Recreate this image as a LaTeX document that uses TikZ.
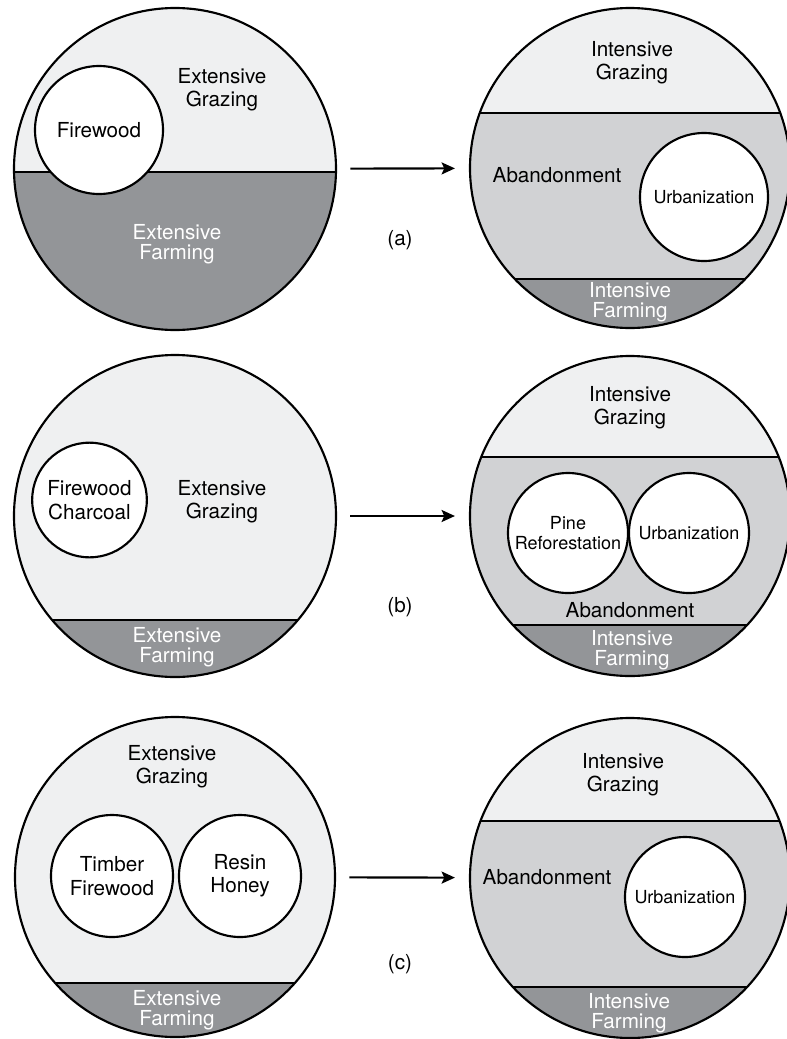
\documentclass[tikz,border=0pt]{standalone}
\usepackage{fontspec}
\setmainfont{TeX Gyre Heros}
\usetikzlibrary{arrows.meta}

\definecolor{lightband}{RGB}{239,240,241}
\definecolor{midband}{RGB}{209,210,212}
\definecolor{darkband}{RGB}{147,149,152}

\tikzset{every picture/.style={line width=1.6pt}}
\tikzset{
  bigring/.style={circle,draw,inner sep=0pt,minimum size=#1},
  usecircle/.style={circle,draw,fill=white,inner sep=0pt,minimum size=#1},
  lbl/.style={align=center,inner sep=0.75pt,font=\fontsize{15.5}{17.5}\selectfont},
  smalllbl/.style={align=center,inner sep=0.75pt,font=\fontsize{13.5}{15.5}\selectfont},
  farmlbl/.style={align=center,inner sep=0.75pt,text=white,font=\fontsize{15.5}{15}\selectfont},
  shiftarrow/.style={-{Stealth[length=10pt,width=9pt,inset=2pt]},shorten <=10pt,shorten >=10.5pt}
}

\begin{document}
\begin{tikzpicture}[x=0.75pt,y=0.75pt,yscale=-1,xscale=1]
\useasboundingbox (0,0) rectangle (787,1039);

%Shape: Circle (a) before
\begin{scope}
\clip (175,169) circle [radius=161];
\fill[lightband] (0,0) rectangle (787,172);
\fill[darkband] (0,172) rectangle (787,340);
\draw (0,172) -- (360,172);
\end{scope}
\node[bigring=241.5pt] (beforeA) at (175,169) {};

%Shape: Circle (a) after
\begin{scope}
\clip (630,168) circle [radius=160];
\fill[lightband] (460,0) rectangle (800,113);
\fill[midband] (460,113) rectangle (800,279);
\fill[darkband] (460,279) rectangle (800,340);
\draw (460,113) -- (800,113);
\draw (460,279) -- (800,279);
\end{scope}
\node[bigring=240pt] (afterA) at (630,168) {};

%Shape: Circle (b) before
\begin{scope}
\clip (175,516) circle [radius=161];
\fill[lightband] (0,340) rectangle (360,620);
\fill[darkband] (0,620) rectangle (360,690);
\draw (0,620) -- (360,620);
\end{scope}
\node[bigring=241.5pt] (beforeB) at (175,516) {};

%Shape: Circle (b) after
\begin{scope}
\clip (630,516) circle [radius=160];
\fill[lightband] (460,340) rectangle (800,457);
\fill[midband] (460,457) rectangle (800,625);
\fill[darkband] (460,625) rectangle (800,690);
\draw (460,457) -- (800,457);
\draw (460,625) -- (800,625);
\end{scope}
\node[bigring=240pt] (afterB) at (630,516) {};

%Shape: Circle (c) before
\begin{scope}
\clip (175,877) circle [radius=160];
\fill[lightband] (0,700) rectangle (360,983);
\fill[darkband] (0,983) rectangle (360,1050);
\draw (0,983) -- (360,983);
\end{scope}
\node[bigring=240pt] (beforeC) at (175,877) {};

%Shape: Circle (c) after
\begin{scope}
\clip (630,878) circle [radius=160];
\fill[lightband] (460,700) rectangle (800,821);
\fill[midband] (460,821) rectangle (800,987);
\fill[darkband] (460,987) rectangle (800,1050);
\draw (460,821) -- (800,821);
\draw (460,987) -- (800,987);
\end{scope}
\node[bigring=240pt] (afterC) at (630,878) {};

%Shape: Circle uses
\node[usecircle=96pt] (firewoodA) at (99,130) {};
\node[usecircle=96pt] (urbanA) at (704,197) {};
\node[usecircle=86pt] (fuelB) at (89.5,500) {};
\node[usecircle=90pt] (pineB) at (568,533) {};
\node[usecircle=90pt] (urbanB) at (689,533) {};
\node[usecircle=91.5pt] (timberC) at (112,876) {};
\node[usecircle=91.5pt] (resinC) at (240,876) {};
\node[usecircle=90pt] (urbanC) at (685,897) {};

%Straight Lines
\draw[shiftarrow] (beforeA) -- (afterA);
\draw[shiftarrow] (beforeB) -- (afterB);
\draw[shiftarrow] (beforeC) -- (afterC);

% Text Node
\node[lbl] (txtFirewoodA) at (firewoodA) {Firewood};
\node[lbl] (txtGrazeA) at (222,90) {Extensive\\Grazing};
\node[farmlbl] (txtFarmA) at (177,244) {Extensive\\Farming};
\node[lbl] (txtIGrazeA) at (632,63) {Intensive\\Grazing};
\node[lbl] (txtAbandonA) at (557,175) {Abandonment};
\node[smalllbl] (txtUrbanA) at (urbanA) {Urbanization};
\node[farmlbl] (txtIFarmA) at (630,302) {Intensive\\Farming};
\node[lbl] (tagA) at (400,240) {(a)};

% Text Node
\node[lbl] (txtFuelB) at (fuelB) {Firewood\\Charcoal};
\node[lbl] (txtGrazeB) at (222,502) {Extensive\\Grazing};
\node[farmlbl] (txtFarmB) at (177,647) {Extensive\\Farming};
\node[lbl] (txtIGrazeB) at (630,408) {Intensive\\Grazing};
\node[smalllbl] (txtPineB) at (pineB) {Pine\\Reforestation};
\node[smalllbl] (txtUrbanB) at (urbanB) {Urbanization};
\node[lbl] (txtAbandonB) at (630,610) {Abandonment};
\node[farmlbl] (txtIFarmB) at (632,650) {Intensive\\Farming};
\node[lbl] (tagB) at (400,607) {(b)};

% Text Node
\node[lbl] (txtGrazeC) at (172,767) {Extensive\\Grazing};
\node[lbl] (txtTimberC) at (timberC) {Timber\\Firewood};
\node[lbl] (txtResinC) at (resinC) {Resin\\Honey};
\node[farmlbl] (txtFarmC) at (177,1010) {Extensive\\Farming};
\node[lbl] (txtIGrazeC) at (623,775) {Intensive\\Grazing};
\node[lbl] (txtAbandonC) at (547,877) {Abandonment};
\node[smalllbl] (txtUrbanC) at (urbanC) {Urbanization};
\node[farmlbl] (txtIFarmC) at (629,1013) {Intensive\\Farming};
\node[lbl] (tagC) at (400,964) {(c)};
\end{tikzpicture}
\end{document}
